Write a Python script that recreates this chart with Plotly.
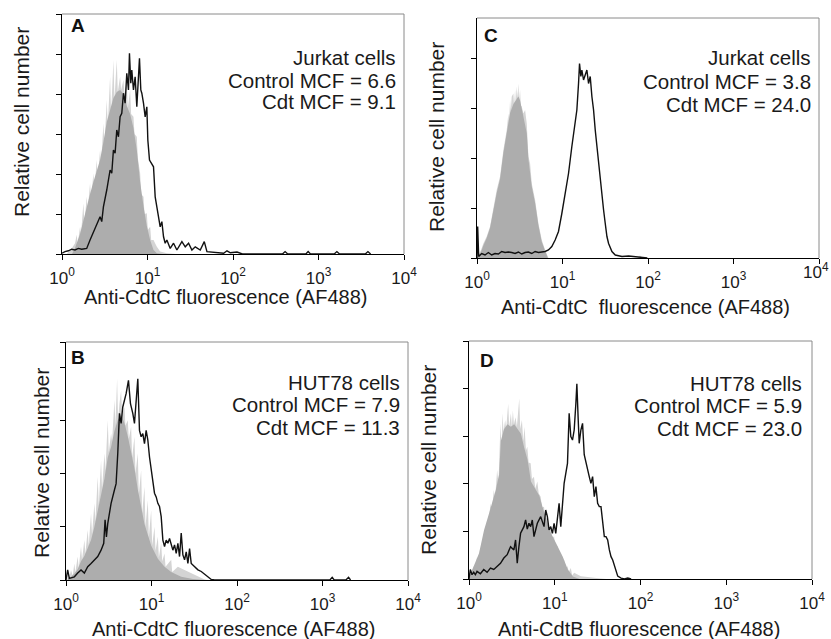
import plotly.graph_objects as go

# ---------------- data (flow-cytometry channels 0..1023 over 4 log decades; relative counts) ----------------
# Panel A: Jurkat cells, anti-CdtC
A_CTRL_OUT_CH = [14,30,39,44,47,54,57,64,67,74,77,84,87,94,97,104,107,114,117,124,127,134,137,144,147,154,157,164,167,174,177,184,187,194,197,204,207,214,217,224,227,234,237,244,247,254,257,264,267,274,284,294,314,340]
A_CTRL_OUT = [0,1.5,2.7,4.8,2.5,6.8,5,12.7,7.5,14.3,11,17.7,13.5,20.2,16,23.5,19,26,22.5,32.7,27,38.5,32,44.3,35,48.5,38.5,48.5,40.5,44.3,41,43.5,40,42.7,36.5,41,35,34.3,30,29.3,24,20.2,15,14.3,10,10.2,6,6.8,3.5,3.5,1.8,0.6,0.2,0]
A_CTRL_CORE_CH = [30,39,54,64,74,84,94,104,114,124,134,144,154,164,174,184,194,204,214,224,234,244,254,264,274,284,300]
A_CTRL_CORE = [0,1.5,5,8.5,12,15,18,20.5,23.5,28,33,36,39,40.5,41,40,37,35,31.5,26,18,12,7,3.5,1,0.2,0]
A_CDT_CH = [0,9,19,29,39,49,59,74,84,94,104,114,119,124,134,144,149,154,159,164,169,174,179,184,189,194,199,202,206,209,214,219,224,229,232,236,239,244,249,254,257,262,269,274,279,284,289,294,299,304,309,314,324,334,344,359,369,379,389,399,414,426,434,454,484,494,504,524,540,660,668,676,730,737,744,815,823,831,908,916,924]
A_CDT = [0.2,0.6,0.8,1.2,1,1.4,1.2,1.4,3.5,5.6,7.7,9.3,8.1,11.8,16,21,20.2,26,25.2,31,29.3,34.3,35.2,40.2,37.7,45.2,41,50.2,42.7,46,41,44.3,36.8,43.5,48.9,41,40.2,37.7,34.3,36.8,28.5,23.5,22.3,21.8,14.3,11.8,9.3,6.8,8.1,4.3,2.7,3.5,1.4,2.7,1,3.1,1.8,2.7,1,1.8,1,3.1,0.6,0.4,0.2,0.8,0.3,0.5,0,0,0.6,0,0,0.6,0,0,0.6,0,0,0.6,0]

# Panel C: Jurkat cells, anti-CdtC
C_CTRL_OUT_CH = [0,12,19,29,39,49,59,69,79,89,94,96,99,101,104,109,111,114,116,119,121,124,126,129,131,134,139,144,149,154,159,164,174,184,194,204,209,214,480,488,496]
C_CTRL_OUT = [0,1.6,2.9,4.3,6.3,10.3,13.6,16.3,21.6,25.6,28.9,27,31.6,29.5,32.3,32.9,30.5,33.6,31,34.3,32,34.9,31.5,33.6,30.5,30.3,28.9,29.6,26.9,20.3,18.9,14.9,11.6,6.9,3.6,1.6,0.6,0,0,0.5,0]
C_CTRL_CORE_CH = [0,12,19,29,39,49,59,69,79,89,99,109,119,124,129,139,149,154,164,174,184,194,204,212]
C_CTRL_CORE = [0,1.2,2.5,4,6,9.8,13,15.8,21,25,29,30.8,31.8,32.3,31.5,28,25,19.8,14.3,11,6.5,3.2,1.3,0]
C_CDT_CH = [0,2,5,14,24,34,44,54,64,74,84,94,104,114,124,134,144,154,164,174,184,194,204,214,224,234,244,254,264,274,284,294,299,304,307,311,314,319,324,329,334,339,344,349,354,359,364,369,374,379,384,389,394,404,414,434,454,494,510]
C_CDT = [0,6.3,0.3,0.9,0.6,1.1,0.6,0.9,0.8,1.3,1.1,1.2,1.1,0.9,1.2,0.8,1.1,1.2,0.9,1.3,1.1,1.2,1.3,1.6,2.3,3.6,5.3,8.9,12.9,16.9,22.3,27.6,29.6,34.9,38.9,36.3,37.6,35.6,36.9,37.6,34.9,36.3,32.3,29.6,25.6,22.3,18.9,14.9,12.3,9.6,6.9,4.3,2.9,1.3,0.6,0.3,0.4,0.1,0]

# Panel B: HUT78 cells, anti-CdtC
B_CTRL_OUT_CH = [5,10,15,20,25,28,35,38,45,48,55,58,65,68,75,78,85,88,95,98,105,108,115,118,125,128,135,138,145,148,153,156,160,165,168,175,178,185,188,195,198,205,208,215,218,225,228,235,238,245,248,255,258,265,268,275,278,285,288,295,298,315,318,335,355,375,395,415,430]
B_CTRL_OUT = [0.9,0.5,1.9,0.8,3.1,1.4,4.4,2.2,6.3,3.8,7.5,5,9.4,6.5,12.5,8.5,14.4,11,19.4,14,22.5,17,23.8,20.5,30,24,27.5,26,33.8,29,37.8,30,33.1,35.6,31,32.5,29,30,26.5,28.8,23,26.9,20,23.8,16,20.6,12.5,17.5,10,15,8,13.1,6.5,10,5.5,8.1,4.2,6.9,3.5,5,2.5,3.8,1.5,2.5,1.9,1.3,0.6,0.1,0]
B_CTRL_CORE_CH = [5,15,25,35,45,55,65,75,85,95,105,115,125,135,145,155,165,175,185,195,205,215,225,235,245,255,275,295,315,345,380,420]
B_CTRL_CORE = [0.3,0.6,1.2,2,3.5,4.5,6,7.5,10,13,16,19,23,25,28,30,31,29.5,27,24,21,17,13.5,10.5,8.5,6.5,4,2.5,1.5,0.6,0.2,0]
B_CDT_CH = [0,5,10,25,35,45,55,65,75,85,95,105,113,117,121,125,135,145,150,155,160,165,170,180,187,193,200,205,210,215,220,225,230,235,240,245,250,255,260,265,270,275,280,285,290,295,300,305,310,315,320,325,330,335,340,345,350,355,360,365,370,375,385,395,405,415,425,435,445,790,797,803,838,846,852]
B_CDT = [0,1.9,0.3,0.6,1.3,1.9,1.3,2.5,3.1,3.8,4.4,5.6,6.9,11.3,8.1,10.6,14.4,16.9,18.1,23.8,31.3,29.4,32.5,35,37.5,33.1,31.3,29.4,33.1,37.8,28.1,26.9,27.5,25.6,28.1,26.3,23.1,20.6,18.1,16.3,15.6,14.4,13.8,11.9,7.5,6.3,7.5,6.9,7.8,6.9,5.6,6.6,5,6.9,4.4,8.8,4.7,3.8,5.3,3.1,5.9,3.1,2.5,1.9,1.6,1.1,0.6,0.1,0,0,0.5,0,0,0.5,0]

# Panel D: HUT78 cells, anti-CdtB
D_CTRL_OUT_CH = [4,14,18,24,28,34,38,44,48,54,58,64,68,74,78,84,88,94,97,100,103,108,111,117,120,125,128,131,134,139,143,150,153,158,162,166,170,174,178,184,188,194,198,204,208,214,218,224,228,234,238,244,248,254,258,264,268,274,278,284,288,294,298,304,308,314,334,354,394,410]
D_CTRL_OUT = [0.6,2.7,1.5,4.7,3.5,6.8,5,9.6,8,12.4,11,15.9,14,18.7,17,22.9,20,32.7,27,34.8,31,33.4,31.5,36.8,32,34.8,32,35.4,32.5,34,32,37.9,31.5,33.4,29,32,27,27.8,24.5,24.3,21,21.5,19,20.5,18,17.3,15,15.2,12.5,13,10,11,8.5,9,6.5,7,5,5.5,3.5,4,2.2,2.7,1.5,2.3,0.8,1.3,0.6,0.4,0.1,0]
D_CTRL_CORE_CH = [0,10,30,45,60,80,90,95,105,115,125,135,145,155,165,175,185,200,210,225,240,260,280,295,310,330]
D_CTRL_CORE = [0.5,2,5.4,10.3,13.8,18.7,22,29,31.5,32.5,32,32.5,31.5,30.5,27.5,25,20.5,18.5,17.5,13.8,10.3,7.5,4.7,2,0.5,0]
D_CDT_CH = [0,4,9,14,19,24,34,44,54,64,74,84,94,104,114,124,134,139,144,149,154,164,169,174,179,184,189,194,204,214,224,229,234,239,244,249,254,259,264,269,274,279,284,289,294,299,304,309,314,319,322,326,329,334,339,344,349,354,359,364,369,374,379,384,389,394,399,404,409,414,419,424,429,434,439,444,454,464,474,484]
D_CDT = [0,2,0.9,1.4,0.9,1.6,1.1,2,1.4,2.3,2,2.7,3.3,4.4,5.1,6.8,6.1,8.2,3.3,6.8,9.6,11,12.4,10.5,11.7,11,12.4,8.9,11.7,13.1,11,14.5,13.1,10.3,11,9.6,11.7,9.6,13.1,15.9,11,15.9,20.1,22.2,24.3,34.8,29.9,29.2,31.3,36.8,41,33.5,28.5,31.3,32.7,26.1,24.3,23,21.5,20.1,21.5,17.3,19.4,15.9,15.2,15.2,12.4,8.9,8.9,8.2,6.1,4.7,4,2.7,1.3,0.6,0.2,0,0.2,0]

X_TICKVALS = [1, 10, 100, 1000, 10000]
X_TICKTEXT = ["10<sup>0</sup>", "10<sup>1</sup>", "10<sup>2</sup>", "10<sup>3</sup>", "10<sup>4</sup>"]

PANELS = [
    # letter, cell line, control MCF, Cdt MCF, x title
    ("A", "Jurkat cells", "6.6", "9.1", "Anti-CdtC fluorescence (AF488)"),
    ("C", "Jurkat cells", "3.8", "24.0", "Anti-CdtC  fluorescence (AF488)"),
    ("B", "HUT78 cells", "7.9", "11.3", "Anti-CdtC fluorescence (AF488)"),
    ("D", "HUT78 cells", "5.9", "23.0", "Anti-CdtB fluorescence (AF488)"),
]
Y_MAX = [60, 48, 44.7, 50]
Y_TICKS = [[0,10,20,30,40,50,60], [0,10,20,30,40], [0,10,20,30,40,44.7], [0,10,20,30,40,50]]

SERIES = [
    (A_CTRL_OUT_CH, A_CTRL_OUT, A_CTRL_CORE_CH, A_CTRL_CORE, A_CDT_CH, A_CDT),
    (C_CTRL_OUT_CH, C_CTRL_OUT, C_CTRL_CORE_CH, C_CTRL_CORE, C_CDT_CH, C_CDT),
    (B_CTRL_OUT_CH, B_CTRL_OUT, B_CTRL_CORE_CH, B_CTRL_CORE, B_CDT_CH, B_CDT),
    (D_CTRL_OUT_CH, D_CTRL_OUT, D_CTRL_CORE_CH, D_CTRL_CORE, D_CDT_CH, D_CDT),
]

# ---------------- layout geometry (pixels) ----------------
W, H = 831, 639
def fx(p): return p / W
def fy(p): return 1 - p / H

# plot boxes: left, right, top, bottom
BOXES = [(62, 404, 14, 254), (477, 819, 18, 258), (66, 408, 342, 580), (469, 812, 341, 579)]
LETTER_POS = [(69, 25), (482, 35), (69, 357), (478, 360)]
INFO_X = [398, 813, 402, 804]
INFO_Y = [(58, 80, 102), (58, 82, 104), (382, 404, 427), (383, 406, 428)]
XTITLE_POS = [(225, 297), (645, 307), (233, 629), (639, 629)]
YTITLE_POS = [(22, 122), (436, 137), (41, 463), (429, 460)]

FONT = "Liberation Sans, Arial, sans-serif"
TXT = "#1a1a1a"

def to_fluor(ch):
    return [10 ** (c / 256.0) for c in ch]

fig = go.Figure()
annotations = []
shapes = []
layout = dict(width=W, height=H, margin=dict(l=0, r=0, t=0, b=0, pad=0), autosize=False,
              paper_bgcolor="white", plot_bgcolor="white", showlegend=False)

for i, (letter, cell, cmcf, dmcf, xtitle) in enumerate(PANELS):
    n = "" if i == 0 else str(i + 1)
    xa, ya = "x" + n, "y" + n
    oc, ov, cc, cv, dc, dv = SERIES[i]
    fig.add_trace(go.Scatter(x=to_fluor(oc), y=ov, xaxis=xa, yaxis=ya, mode="lines",
                             line=dict(width=0, color="#d4d4d4"), fill="tozeroy", fillcolor="#d4d4d4"))
    fig.add_trace(go.Scatter(x=to_fluor(cc), y=cv, xaxis=xa, yaxis=ya, mode="lines",
                             line=dict(width=0, color="#adadad"), fill="tozeroy", fillcolor="#adadad"))
    fig.add_trace(go.Scatter(x=to_fluor(dc), y=dv, xaxis=xa, yaxis=ya, mode="lines",
                             line=dict(width=1.4, color="#111111")))
    l, r, t, b = BOXES[i]
    layout["xaxis" + n] = dict(domain=[fx(l), fx(r)], anchor=ya, type="log", range=[0, 4],
                               automargin=False, ticklabelstandoff=3,
                               tickvals=X_TICKVALS, ticktext=X_TICKTEXT, ticks="outside", ticklen=5,
                               tickcolor="black", showline=True, linecolor="black", linewidth=1.3,
                               showgrid=False, zeroline=False,
                               tickfont=dict(family=FONT, size=17, color=TXT))
    layout["yaxis" + n] = dict(domain=[fy(b), fy(t)], anchor=xa, range=[0, Y_MAX[i]],
                               automargin=False,
                               tickvals=Y_TICKS[i], showticklabels=False, ticks="outside", ticklen=5,
                               tickcolor="black", showline=True, linecolor="black", linewidth=1.3,
                               showgrid=False, zeroline=False)
    # grey top and right border
    shapes.append(dict(type="line", xref=xa + " domain", yref=ya + " domain", x0=0, x1=1, y0=1, y1=1,
                       line=dict(color="#8a8a8a", width=1)))
    shapes.append(dict(type="line", xref=xa + " domain", yref=ya + " domain", x0=1, x1=1, y0=0, y1=1,
                       line=dict(color="#8a8a8a", width=1)))
    lx, ly = LETTER_POS[i]
    annotations.append(dict(text="<b>" + letter + "</b>", x=fx(lx), y=fy(ly), xref="paper", yref="paper",
                            xanchor="left", yanchor="middle", showarrow=False,
                            font=dict(family=FONT, size=19, color="#111")))
    lines = [cell, "Control MCF = " + cmcf, "Cdt MCF = " + dmcf]
    for txt, yy in zip(lines, INFO_Y[i]):
        annotations.append(dict(text=txt, x=fx(INFO_X[i]), y=fy(yy), xref="paper", yref="paper",
                                xanchor="right", yanchor="middle", showarrow=False,
                                font=dict(family=FONT, size=20.5, color=TXT)))
    tx, ty = XTITLE_POS[i]
    annotations.append(dict(text=xtitle, x=fx(tx), y=fy(ty), xref="paper", yref="paper",
                            xanchor="center", yanchor="middle", showarrow=False,
                            font=dict(family=FONT, size=20, color=TXT)))
    yx, yy2 = YTITLE_POS[i]
    annotations.append(dict(text="Relative cell number", x=fx(yx), y=fy(yy2), xref="paper", yref="paper",
                            xanchor="center", yanchor="middle", textangle=-90, showarrow=False,
                            font=dict(family=FONT, size=21, color=TXT)))

# panel C's last tick label would run off the page edge (plotly drops it); keep it flush with the edge
annotations.append(dict(text=X_TICKTEXT[-1], x=1.0, y=fy(271), xref="paper", yref="paper",
                        xanchor="right", yanchor="middle", showarrow=False,
                        font=dict(family=FONT, size=17, color=TXT)))

layout["annotations"] = annotations
layout["shapes"] = shapes
fig.update_layout(**layout)
fig.write_html("out.html", config={"displayModeBar": False},
               post_script="document.body.style.margin='0px';document.body.style.padding='0px';document.body.style.overflow='hidden';")
